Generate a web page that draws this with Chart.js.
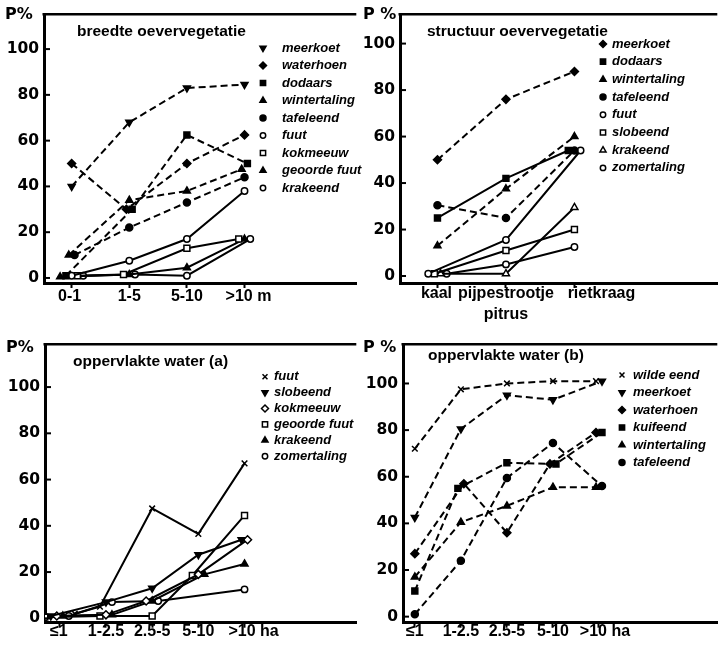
<!DOCTYPE html>
<html>
<head>
<meta charset="utf-8">
<script src="https://cdn.jsdelivr.net/npm/chart.js@4.4.0/dist/chart.umd.min.js"></script>
<style>
  body { margin: 0; background: #fff; }
  #wrap { position: relative; width: 723px; height: 654px; }
  canvas { position: absolute; }
</style>
</head>
<body>
<div id="wrap">
  <canvas id="c1" width="362" height="330" style="left:0;top:0"></canvas>
  <canvas id="c2" width="361" height="330" style="left:362px;top:0"></canvas>
  <canvas id="c3" width="362" height="324" style="left:0;top:330px"></canvas>
  <canvas id="c4" width="361" height="324" style="left:362px;top:330px"></canvas>
</div>
<script>
// breedte oevervegetatie
const breedteCats = ['0-1', '1-5', '5-10', '>10 m'];
const breedteNames = ['meerkoet', 'waterhoen', 'dodaars', 'wintertaling', 'tafeleend', 'fuut', 'kokmeeuw', 'geoorde fuut', 'krakeend'];
const breedteMeerkoet = [40, 68, 83, 84.5];
const breedteWaterhoen = [50, 30, 50, 62.5];
const breedteDodaars = [1, 30, 62.5, 50];
const breedteWintertaling = [10, 34, 38, 47.5];
const breedteTafeleend = [10, 22, 33, 44];
const breedteFuut = [1, 7.5, 17, 38];
const breedteKokmeeuw = [1, 1.5, 13, 17];
const breedteGeoordeFuut = [0.5, 1.5, 4.5, 17];
const breedteKrakeend = [1, 1.5, 1, 17];

// structuur oevervegetatie
const structuurCats = ['kaal', ['pijpestrootje', 'pitrus'], 'rietkraag'];
const structuurNames = ['meerkoet', 'dodaars', 'wintertaling', 'tafeleend', 'fuut', 'slobeend', 'krakeend', 'zomertaling'];
const structuurMeerkoet = [50, 76, 88];
const structuurDodaars = [25, 42, 54];
const structuurWintertaling = [13, 37.5, 60];
const structuurTafeleend = [30.5, 25, 54];
const structuurFuut = [1, 15.5, 54];
const structuurSlobeend = [1, 11, 20];
const structuurKrakeend = [1, 1, 29.5];
const structuurZomertaling = [1, 5, 12.5];

// oppervlakte water (a)
const waterCats = ['≤1', '1-2.5', '2.5-5', '5-10', '>10 ha'];
const waterANames = ['fuut', 'slobeend', 'kokmeeuw', 'geoorde fuut', 'krakeend', 'zomertaling'];
const waterAFuut = [2, 5, 47.5, 36.5, 67];
const waterASlobeend = [1, 7, 13, 27.5, 34];
const waterAKokmeeuw = [1, 1.5, 7.5, 19, 34];
const waterAGeoordeFuut = [0.5, 1, 1, 18.5, 44.5];
const waterAKrakeend = [1, 1.5, 7.5, 19, 23.5];
const waterAZomertaling = [1, 7, 7.5, null, 12.5];

// oppervlakte water (b)
const waterBNames = ['wilde eend', 'meerkoet', 'waterhoen', 'kuifeend', 'wintertaling', 'tafeleend'];
const waterBWildeEend = [72, 97.5, 100, 101, 101];
const waterBMeerkoet = [42.5, 80.5, 95, 93, 101];
const waterBWaterhoen = [27, 57, 36, 65.5, 79];
const waterBKuifeend = [11, 55, 66, 65.5, 79];
const waterBWintertaling = [17, 40.5, 47.5, 55.5, 55.5];
const waterBTafeleend = [1, 24, 59.5, 74.5, 56];

const yTicks = [0, 20, 40, 60, 80, 100];

const MARKS = {
  down:       { style: 'triangle', rot: 180, r: 4, fill: true },
  up:         { style: 'triangle', rot: 0, r: 4, fill: true },
  upOpen:     { style: 'triangle', rot: 0, r: 4, fill: false },
  diamond:    { style: 'rectRot', rot: 0, r: 4, fill: true },
  diamondOpen:{ style: 'rectRot', rot: 0, r: 4, fill: false },
  square:     { style: 'rect', rot: 0, r: 4.2, fill: true },
  squareOpen: { style: 'rect', rot: 0, r: 4.2, fill: false },
  dot:        { style: 'circle', rot: 0, r: 3.5, fill: true },
  ring:       { style: 'circle', rot: 0, r: 3.2, fill: false },
  cross:      { style: 'crossRot', rot: 0, r: 4, fill: false }
};

Chart.defaults.font.family = '"Liberation Sans", Arial, sans-serif';
Chart.defaults.color = '#000';

// spread markers sideways where they would sit on top of each other
function dodge(series, nCats, step, near) {
  const offs = series.map(() => new Array(nCats).fill(0));
  for (let c = 0; c < nCats; c++) {
    const idx = series.map((s, k) => k).filter(k => series[k][c] != null)
      .sort((a, b) => series[a][c] - series[b][c]);
    let group = [];
    const flush = () => {
      group.forEach((k, j) => { offs[k][c] = (j - (group.length - 1) / 2) * step; });
      group = [];
    };
    idx.forEach(k => {
      if (group.length && series[k][c] - series[group[group.length - 1]][c] > near) flush();
      group.push(k);
    });
    flush();
  }
  return offs;
}

const panelText = {
  id: 'panelText',
  afterDraw(chart, args, o) {
    const ctx = chart.ctx, a = chart.chartArea, ys = chart.scales.y, xs = chart.scales.x;
    ctx.save();
    ctx.setLineDash([]);
    ctx.strokeStyle = '#000';
    ctx.lineWidth = 2.5;
    ctx.beginPath(); ctx.moveTo(a.left - 1.5, a.top); ctx.lineTo(a.right, a.top); ctx.stroke();
    ctx.lineWidth = 2;
    yTicks.forEach(v => {
      const py = ys.getPixelForValue(v);
      ctx.beginPath(); ctx.moveTo(a.left, py); ctx.lineTo(a.left + 6, py); ctx.stroke();
    });
    ctx.fillStyle = '#000';
    ctx.textBaseline = 'middle';
    ctx.textAlign = 'left';
    ctx.font = 'bold 16px "DejaVu Sans"';
    ctx.fillText(o.pLabel, o.pX, o.pY);
    ctx.font = 'bold 15.5px "Liberation Sans"';
    ctx.fillText(o.title, o.titleX, o.titleY);
    // category labels under the axis
    ctx.textAlign = 'center';
    ctx.font = 'bold 16px "Liberation Sans"';
    o.cats.forEach((lab, i) => {
      const px = xs.getPixelForValue(i) + o.labShift[i];
      [].concat(lab).forEach((line, j) => ctx.fillText(line, px, o.labY + j * 21));
    });
    ctx.textAlign = 'left';
    chart.data.datasets.forEach((ds, k) => {
      const y = o.legY + k * o.legStep;
      ctx.fillStyle = ds.pointBackgroundColor;
      ctx.strokeStyle = '#000';
      ctx.lineWidth = 1.5;
      Chart.helpers.drawPoint(ctx, { pointStyle: ds.pointStyle, rotation: ds.rotation, radius: ds.pointRadius - 0.5, borderWidth: 1.5 }, o.legX, y);
      ctx.fillStyle = '#000';
      ctx.font = 'italic bold 13px "Liberation Sans"';
      ctx.fillText(ds.label, o.textX, y);
    });
    ctx.restore();
  }
};

function panel(id, p) {
  const offs = dodge(p.values, p.cats.length, p.step, 2.5);
  const datasets = p.names.map((name, k) => {
    const m = MARKS[p.marks[k]];
    return {
      label: name,
      data: p.values[k].map((v, i) => v == null ? null : { x: i + offs[k][i], y: v }).filter(Boolean),
      borderColor: '#000',
      borderWidth: 2,
      borderDash: p.dashed[k] ? [7, 4] : [],
      pointStyle: m.style,
      rotation: m.rot,
      pointRadius: m.r,
      pointBackgroundColor: m.fill ? '#000' : '#fff',
      pointBorderColor: '#000',
      pointBorderWidth: 1.5,
      fill: false,
      tension: 0
    };
  });
  p.text.cats = p.cats;
  new Chart(document.getElementById(id), {
    type: 'line',
    data: { datasets },
    options: {
      responsive: false,
      animation: false,
      layout: { padding: { top: p.top, right: p.right, left: 0, bottom: 0 } },
      plugins: {
        legend: { display: false },
        tooltip: { enabled: false },
        panelText: p.text
      },
      scales: {
        x: {
          type: 'linear',
          min: p.xMin, max: p.xMax,
          afterBuildTicks: s => { s.ticks = p.cats.map((c, i) => ({ value: i })); },
          afterFit: s => { s.height = p.xAxisH; },
          ticks: { display: false },
          grid: { drawOnChartArea: false, drawTicks: true, tickLength: 5, tickWidth: 2, color: '#000' },
          border: { width: 3, color: '#000' }
        },
        y: {
          min: p.yMin, max: p.yMax,
          afterBuildTicks: s => { s.ticks = yTicks.map(v => ({ value: v })); },
          afterFit: s => { s.width = p.yAxisW; },
          ticks: { font: { family: '"DejaVu Sans"', size: 15.5, weight: 'bold' }, padding: 5 },
          grid: { drawOnChartArea: false, drawTicks: false },
          border: { width: 3, color: '#000' }
        }
      }
    },
    plugins: [panelText]
  });
}

panel('c1', {
  cats: breedteCats, names: breedteNames,
  values: [breedteMeerkoet, breedteWaterhoen, breedteDodaars, breedteWintertaling, breedteTafeleend,
           breedteFuut, breedteKokmeeuw, breedteGeoordeFuut, breedteKrakeend],
  marks: ['down', 'diamond', 'square', 'up', 'dot', 'ring', 'squareOpen', 'up', 'ring'],
  dashed: [true, true, true, true, true, false, false, false, false],
  step: 0.1, top: 13, right: 2, xAxisH: 47, yAxisW: 44,
  xMin: -0.48, xMax: 4.94, yMin: -2.2, yMax: 115.2,
  text: { pLabel: 'P%', pX: 5, pY: 15, title: 'breedte oevervegetatie', titleX: 77, titleY: 32,
          legX: 263, textX: 282, legY: 48, legStep: 17.5, labY: 297, labShift: [-2, 0, 0, 4] }
});

panel('c2', {
  cats: structuurCats, names: structuurNames,
  values: [structuurMeerkoet, structuurDodaars, structuurWintertaling, structuurTafeleend,
           structuurFuut, structuurSlobeend, structuurKrakeend, structuurZomertaling],
  marks: ['diamond', 'square', 'up', 'dot', 'ring', 'squareOpen', 'upOpen', 'ring'],
  dashed: [true, false, true, true, false, false, false, false],
  step: 0.09, top: 14, right: 1, xAxisH: 47, yAxisW: 38,
  xMin: -0.547, xMax: 4.086, yMin: -3.0, yMax: 112.6,
  text: { pLabel: 'P %', pX: 1, pY: 15, title: 'structuur oevervegetatie', titleX: 65, titleY: 32,
          legX: 241, textX: 250, legY: 44, legStep: 17.7, labY: 294, labShift: [-1, 0, 27] }
});

panel('c3', {
  cats: waterCats, names: waterANames,
  values: [waterAFuut, waterASlobeend, waterAKokmeeuw, waterAGeoordeFuut, waterAKrakeend, waterAZomertaling],
  marks: ['cross', 'down', 'diamondOpen', 'squareOpen', 'up', 'ring'],
  dashed: [false, false, false, false, false, false],
  step: 0.13, top: 13, right: 2, xAxisH: 31.3, yAxisW: 45,
  xMin: -0.32, xMax: 6.42, yMin: -1.9, yMax: 118.5,
  text: { pLabel: 'P%', pX: 6, pY: 18, title: 'oppervlakte water (a)', titleX: 73, titleY: 32,
          legX: 265, textX: 274, legY: 46.7, legStep: 15.9, labY: 302, labShift: [-1, 0, 0, 0, 9] }
});

panel('c4', {
  cats: waterCats, names: waterBNames,
  values: [waterBWildeEend, waterBMeerkoet, waterBWaterhoen, waterBKuifeend, waterBWintertaling, waterBTafeleend],
  marks: ['cross', 'down', 'diamond', 'square', 'up', 'dot'],
  dashed: [true, true, true, true, true, true],
  step: 0.13, top: 14, right: 1, xAxisH: 31.3, yAxisW: 41,
  xMin: -0.257, xMax: 6.57, yMin: -2.6, yMax: 116.8,
  text: { pLabel: 'P %', pX: 1, pY: 18, title: 'oppervlakte water (b)', titleX: 66, titleY: 26,
          legX: 260, textX: 271, legY: 45, legStep: 17.5, labY: 302, labShift: [0, 0, 0, 0, 6] }
});
</script>
</body>
</html>
